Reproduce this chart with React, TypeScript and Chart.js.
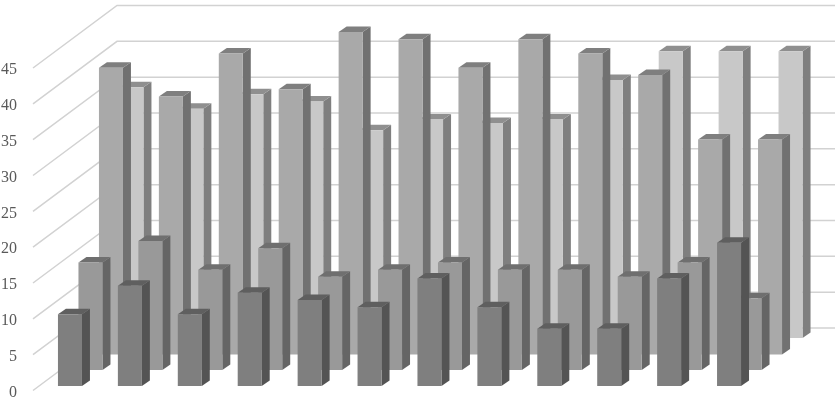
import { useEffect, useRef } from "react";
import { Chart, registerables, BarController } from "chart.js";

Chart.register(...registerables);

const categories = ["1", "2", "3", "4", "5", "6", "7", "8", "9", "10", "11", "12"];
const seriesFront = [10, 14, 10, 13, 12, 11, 15, 11, 8, 8, 15, 20];
const seriesSecond = [15, 18, 14, 17, 13, 14, 15, 14, 14, 13, 15, 10];
const seriesThird = [40, 36, 42, 37, 45, 44, 40, 44, 42, 39, 30, 30];
const seriesBack = [35, 32, 34, 33, 29, 30.5, 30, 30.5, 36, 40, 40, 40];
const yTicks = [0, 5, 10, 15, 20, 25, 30, 35, 40, 45];

const faceColors = ["#7f7f7f", "#999999", "#a9a9a9", "#c8c8c8"];
const sideColors = ["#545454", "#656565", "#717171", "#7f7f7f"];
const capColors = ["#5f5f5f", "#6f6f6f", "#7f7f7f", "#8f8f8f"];

// Projection of the 3D box: how far each series sits behind the front plane.
const DEPTH_X = [7, 27.5, 48, 68.5];
const DEPTH_Y = [-4.5, -20.5, -36, -52.5];
const BOX_X = 8;
const BOX_Y = -5.5;
const WALL_X = 84;
const WALL_Y = -62.5;
const LABEL_SHIFT_Y = 2;

class Bar3DController extends BarController {
  static id = "bar3d";
  static defaults = BarController.defaults;
  static overrides = BarController.overrides;

  draw() {
    const ctx = this.chart.ctx;
    const k = this.index;
    const dx = DEPTH_X[k];
    const dy = DEPTH_Y[k];
    const poly = (pts: number[][], fill: string) => {
      ctx.beginPath();
      pts.forEach(([px, py], i) => (i ? ctx.lineTo(px, py) : ctx.moveTo(px, py)));
      ctx.closePath();
      ctx.fillStyle = fill;
      ctx.fill();
    };
    ctx.save();
    for (const el of this._cachedMeta.data as any[]) {
      const l = el.x - el.width / 2 + dx;
      const r = el.x + el.width / 2 + dx;
      const t = el.y + dy;
      const b = el.base + dy;
      poly([[r, t], [r + BOX_X, t + BOX_Y], [r + BOX_X, b + BOX_Y], [r, b]], sideColors[k]);
      poly([[l, t], [l + BOX_X, t + BOX_Y], [r + BOX_X, t + BOX_Y], [r, t]], capColors[k]);
      poly([[l, t], [r, t], [r, b], [l, b]], faceColors[k]);
    }
    ctx.restore();
  }
}
Chart.register(Bar3DController);

const wallGrid = {
  id: "wallGrid",
  beforeDatasetsDraw(chart: any) {
    const { ctx, scales } = chart;
    const y = scales.y;
    const left = y.right;
    ctx.save();
    ctx.strokeStyle = "#d2d2d2";
    ctx.lineWidth = 1.5;
    for (const v of yTicks) {
      const py = y.getPixelForValue(v);
      ctx.beginPath();
      ctx.moveTo(left, py);
      ctx.lineTo(left + WALL_X, py + WALL_Y);
      ctx.lineTo(835, py + WALL_Y);
      ctx.stroke();
    }
    ctx.restore();
  },
};

export default function App() {
  const ref = useRef<HTMLCanvasElement>(null);
  useEffect(() => {
    const all = [seriesFront, seriesSecond, seriesThird, seriesBack];
    const chart = new Chart(ref.current!, {
      type: "bar3d" as any,
      data: {
        labels: categories,
        datasets: all.map((data, i) => ({
          label: `Series ${i + 1}`,
          data,
          backgroundColor: faceColors[i],
          barThickness: 24,
          grouped: false,
          clip: false,
        })) as any,
      },
      options: {
        animation: false,
        responsive: false,
        layout: { padding: { top: 68, bottom: 7.5, right: 84, left: 0 } },
        plugins: { legend: { display: false }, tooltip: { enabled: false } },
        scales: {
          x: {
            type: "category",
            display: false,
            offset: true,
            grid: { display: false },
            ticks: { display: false },
          },
          y: {
            type: "linear",
            min: 0,
            max: 45,
            offset: false,
            border: { display: false },
            grid: { display: false, drawTicks: false },
            afterFit: (s: any) => {
              s.width = 33;
              s.paddingTop = 0;
              s.paddingBottom = 0;
            },
            afterBuildTicks: (s: any) => {
              s.ticks = yTicks.map((value) => ({ value }));
            },
            afterUpdate: (s: any) => {
              const compute = s._computeLabelItems;
              s._computeLabelItems = (area: any) =>
                compute.call(s, area).map((item: any) => {
                  item.options.translation[1] += LABEL_SHIFT_Y;
                  return item;
                });
            },
            ticks: {
              padding: 16,
              color: "#595959",
              font: { family: "'Liberation Serif'", size: 16 },
            },
          },
        },
      } as any,
      plugins: [wallGrid],
    });
    return () => chart.destroy();
  }, []);
  return (
    <canvas
      ref={ref}
      width={836}
      height={398}
      style={{ position: "fixed", left: 0, top: 0, display: "block" }}
    />
  );
}
